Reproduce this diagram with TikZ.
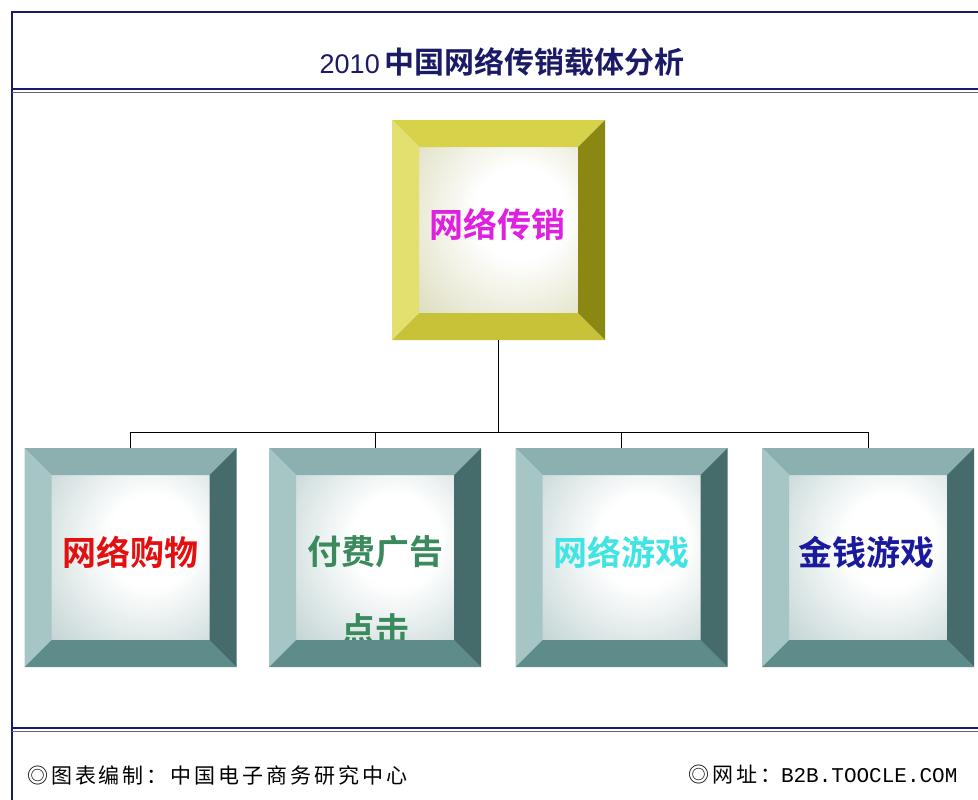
\documentclass[tikz,border=0pt]{standalone}
\usepackage{fontspec}
\newfontfamily\cjk{Noto Sans CJK SC}[LetterSpace=14]
\newfontfamily\cjkb{Noto Sans CJK SC Bold}
\setmainfont{Liberation Sans}
\usetikzlibrary{calc}
\definecolor{navy}{HTML}{1A1A66}
\definecolor{ytop}{HTML}{D6D24A}
\definecolor{yleft}{HTML}{E4E070}
\definecolor{ybot}{HTML}{C8C238}
\definecolor{yright}{HTML}{8A8812}
\definecolor{yin}{HTML}{D2D2AA}
\definecolor{ttop}{HTML}{8CB0B0}
\definecolor{tleft}{HTML}{A6C6C6}
\definecolor{tbot}{HTML}{5E8C8A}
\definecolor{tright}{HTML}{456C6A}
\definecolor{tin}{HTML}{B0C6C6}
\definecolor{cmag}{HTML}{E020E0}
\definecolor{cred}{HTML}{E41010}
\definecolor{cgreen}{HTML}{3A8A5E}
\definecolor{ccyan}{HTML}{40E4E4}
\definecolor{cblue}{HTML}{1A1A9C}
\pgfdeclareradialshading{yglow}{\pgfpoint{8bp}{6bp}}{color(0bp)=(white); color(14bp)=(white); color(50bp)=(yin); color(90bp)=(yin)}
\pgfdeclareradialshading{tglow}{\pgfpoint{8bp}{6bp}}{color(0bp)=(white); color(14bp)=(white); color(50bp)=(tin); color(90bp)=(tin)}
\tikzset{
  boxnode/.style={minimum width=212pt, minimum height=219pt, inner sep=0pt, outer sep=0pt},
  lbl/.style={font=\cjkb\fontsize{34}{40}\selectfont, inner sep=0pt},
  conn/.style={draw=black, line width=1pt},
  foot/.style={anchor=west, inner sep=0pt, font=\cjk\fontsize{21}{25}\selectfont},
}
\newcommand\innerfill[2]{%
  \shade[shading=#2] ($(#1.north west)+(27,27)$) rectangle ($(#1.south east)+(-27,-27)$);}
\newcommand\bevelfaces[5]{%
  \fill[#2] (#1.north west) -- (#1.north east) -- ($(#1.north east)+(-27,27)$) -- ($(#1.north west)+(27,27)$) -- cycle;
  \fill[#3] (#1.north west) -- (#1.south west) -- ($(#1.south west)+(27,-27)$) -- ($(#1.north west)+(27,27)$) -- cycle;
  \fill[#4] (#1.south west) -- (#1.south east) -- ($(#1.south east)+(-27,-27)$) -- ($(#1.south west)+(27,-27)$) -- cycle;
  \fill[#5] (#1.north east) -- (#1.south east) -- ($(#1.south east)+(-27,-27)$) -- ($(#1.north east)+(-27,27)$) -- cycle;}
\begin{document}
\begin{tikzpicture}[x=1pt,y=-1pt]
\useasboundingbox (0,0) rectangle (978,800);
\fill[white] (0,0) rectangle (978,800);
% frame
\draw[line width=1.2pt, navy] (12,800) -- (12,12) -- (978,12);
\draw[line width=2pt, navy] (12,89) -- (978,89);
\draw[line width=0.8pt, navy!70] (12,92.5) -- (978,92.5);
\draw[line width=2pt, navy] (12,728) -- (978,728);
\draw[line width=0.8pt, navy!70] (12,731.5) -- (978,731.5);
% title
\node[text=navy, inner sep=0pt] (title) at (502,62) {{\fontsize{27}{30}\selectfont 2010\,}{\cjkb\fontsize{30}{33}\selectfont 中国网络传销载体分析}};
% boxes
\node[boxnode, minimum width=213pt, minimum height=220pt] (top) at (498.5,230) {};
\node[boxnode] (b1) at (130.5,557.5) {};
\node[boxnode] (b2) at (375,557.5) {};
\node[boxnode] (b3) at (621.5,557.5) {};
\node[boxnode] (b4) at (868,557.5) {};
\innerfill{top}{yglow}
\innerfill{b1}{tglow}
\innerfill{b2}{tglow}
\innerfill{b3}{tglow}
\innerfill{b4}{tglow}
\node[lbl, text=cmag] (t0) at (497,224) {网络传销};
\node[lbl, text=cred] (t1) at (130,552) {网络购物};
\node[lbl, text=cgreen] (t2a) at (375,552) {付费广告};
\node[lbl, text=cgreen] (t2b) at (375,630) {点击};
\node[lbl, text=ccyan] (t3) at (621.5,552) {网络游戏};
\node[lbl, text=cblue] (t4) at (866,552) {金钱游戏};
\bevelfaces{top}{ytop}{yleft}{ybot}{yright}
\bevelfaces{b1}{ttop}{tleft}{tbot}{tright}
\bevelfaces{b2}{ttop}{tleft}{tbot}{tright}
\bevelfaces{b3}{ttop}{tleft}{tbot}{tright}
\bevelfaces{b4}{ttop}{tleft}{tbot}{tright}
% connectors
\coordinate (j) at (498.5,432);
\draw[conn] (top.south) -- (j);
\draw[conn] (j) -| (b1.north);
\draw[conn] (j) -| (b2.north);
\draw[conn] (j) -| (b3.north);
\draw[conn] (j) -| (b4.north);
% footer
\node[foot] (f1) at (27,775) {◎图表编制：中国电子商务研究中心};
\node[foot] (f2) at (688,775) {◎网址：{\fontspec{Liberation Mono}\fontsize{21}{26}\selectfont B2B.TOOCLE.COM}};
\end{tikzpicture}
\end{document}
